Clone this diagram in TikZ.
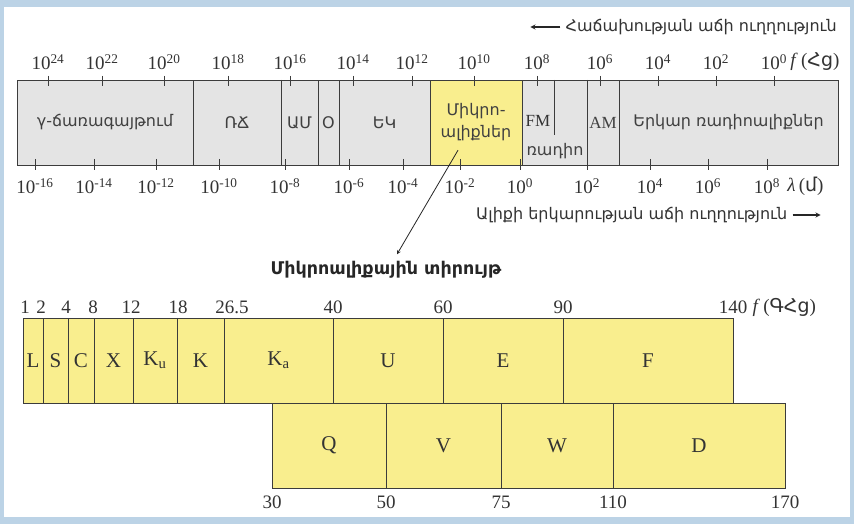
\documentclass[tikz,border=0pt]{standalone}
\usepackage{fontspec}
\setmainfont{Liberation Serif}
\newfontfamily\armfont{DejaVu Sans}
\usetikzlibrary{positioning}

\definecolor{frameblue}{HTML}{BCD3E6}
\definecolor{bandgray}{HTML}{E4E4E4}
\definecolor{mwyellow}{HTML}{F9EE8E}
\definecolor{edgecol}{HTML}{3C3C3C}

\begin{document}
\begin{tikzpicture}[x=1pt, y=-1pt,
    band/.style={rectangle, draw=edgecol, fill=bandgray, minimum height=85pt,
                 inner sep=0pt, font=\armfont\fontsize{16}{22}\selectfont, text=black!75},
    mwband/.style={band, fill=mwyellow},
    mwbox/.style={rectangle, draw=edgecol, fill=mwyellow, minimum height=85pt,
                  inner sep=0pt, font=\fontsize{21}{24}\selectfont, text=black!80},
    axlbl/.style={font=\fontsize{19}{22}\selectfont, text=black!80, inner sep=1pt},
    armlbl/.style={font=\armfont\fontsize{16}{18}\selectfont, text=black!75, inner sep=1pt},
    dirlbl/.style={font=\armfont\fontsize{16}{18}\selectfont, text=black!80, inner sep=1pt},
    tickmark/.style={edgecol, thick},
    thickdiv/.style={edgecol, line width=1.4pt},
    conn/.style={->, thick, >=stealth, black!85},
    dirarrow/.style={->, line width=1.2pt, >=stealth, black!85},
]

% --- Frame ---
\useasboundingbox (0,0) rectangle (854,524);
\fill[frameblue] (0,0) rectangle (854,524);
\fill[white] (4,7) rectangle (850,517);

% --- Spectrum bar ---
\node[band, minimum width=176pt] (gamma) at (105,122.5) {γ-ճառագայթում};
\node[band, minimum width=88pt]  (xray)  at (237,122.5) {ՌՃ};
\node[band, minimum width=37pt]  (uv)    at (299.5,122.5) {ԱՄ};
\node[band, minimum width=21pt]  (vis)   at (328.5,122.5) {Օ};
\node[band, minimum width=91pt]  (ir)    at (384.5,122.5) {ԵԿ};
\node[mwband, minimum width=92pt, align=center] (micro) at (476,122.5) {Միկրո-\\ալիքներ};
\node[band, minimum width=65pt]  (radio) at (554.5,122.5) {};
\node[band, minimum width=32pt, font=\fontsize{17}{19}\selectfont] (am) at (603,122.5) {AM};
\node[band, minimum width=219pt] (longw) at (728.5,122.5) {Երկար ռադիոալիքներ};

\node[axlbl, font=\fontsize{17}{19}\selectfont] (fm) at (538,121) {FM};
\node[armlbl] (radiolbl) at (555,151) {ռադիո};
\draw[edgecol] (radio.north) -- ++(0,55);
\draw[thickdiv] (xray.north east) -- (xray.south east);
\draw[thickdiv] (radio.north east) -- (radio.south east);

% --- Frequency scale (top) ---
\foreach \x/\e [count=\i] in {48/24, 102/22, 164/20, 228/18, 290/16, 353/14, 412/12,
                              474/10, 537/8, 600/6, 658/4, 716/2, 774/0} {
  \draw[tickmark] (\x,76) -- (\x,86);
  \node[axlbl] (fq\i) at (\x,62) {10\textsuperscript{\e}};
}
\node[axlbl, right=1pt of fq13] (funit) {\textit{f}\,({\armfont Հց})};

% --- Wavelength scale (bottom) ---
\foreach \x/\e [count=\i] in {35/-16, 94/-14, 156/-12, 219/-10, 285/-8, 349/-6, 403/-4,
                              460/-2, 520/0, 587/2, 650/4, 708/6, 767/8} {
  \draw[tickmark] (\x,159) -- (\x,170);
  \node[axlbl] (wl\i) at (\x,186) {10\textsuperscript{\e}};
}
\node[axlbl, right=5pt of wl13] (lunit) {\textit{λ}\,({\armfont մ})};

% --- Direction labels ---
\node[dirlbl, anchor=east] (freqdir) at (838,27) {Հաճախության աճի ուղղություն};
\coordinate (freqend) at ([xshift=-34pt]freqdir.west);
\draw[dirarrow] ([xshift=-4pt]freqdir.west) -- (freqend);
\node[dirlbl, anchor=west] (wavedir) at (475,215) {Ալիքի երկարության աճի ուղղություն};
\coordinate (waveend) at ([xshift=32pt]wavedir.east);
\draw[dirarrow] ([xshift=4pt]wavedir.east) -- (waveend);

% --- Microwave title and zoom arrow ---
\node[armlbl, font=\armfont\bfseries\fontsize{17.5}{20}\selectfont, text=black!85] (mwtitle) at (386,270) {Միկրոալիքային տիրույթ};
\draw[conn] ([xshift=-18pt,yshift=15pt]micro.south) -- ([xshift=11pt,yshift=6pt]mwtitle.north);

% --- Microwave bands, upper row ---
\foreach \a/\b/\t [count=\i] in {23/43/L, 43/68/S, 68/94/C, 94/133/X, 133/177/K\textsubscript{u},
                                 177/224/K, 224/333/K\textsubscript{a}, 333/443/U, 443/563/E, 563/733/F}
  \node[mwbox, minimum width={\b-\a}] (ba\i) at ({(\a+\b)/2},360.5) {\t};
\draw[thickdiv] (ba5.north east) -- (ba5.south east);
\foreach \x/\v [count=\i] in {25/1, 41/2, 66/4, 93/8, 131/12, 178/18, 232/26.5,
                              333/40, 443/60, 563/90, 733/140}
  \node[axlbl] (ga\i) at (\x,307) {\v};
\node[axlbl, right=3pt of ga11] (gunit) {\textit{f}\,({\armfont ԳՀց})};

% --- Microwave bands, lower row ---
\foreach \a/\b/\t [count=\i] in {272/386/Q, 386/501/V, 501/613/W, 613/785/D}
  \node[mwbox, minimum width={\b-\a}] (bb\i) at ({(\a+\b)/2},445.5) {\t};
\foreach \x/\v [count=\i] in {272/30, 386/50, 501/75, 613/110, 785/170}
  \node[axlbl] (gb\i) at (\x,502) {\v};

\end{tikzpicture}
\end{document}
